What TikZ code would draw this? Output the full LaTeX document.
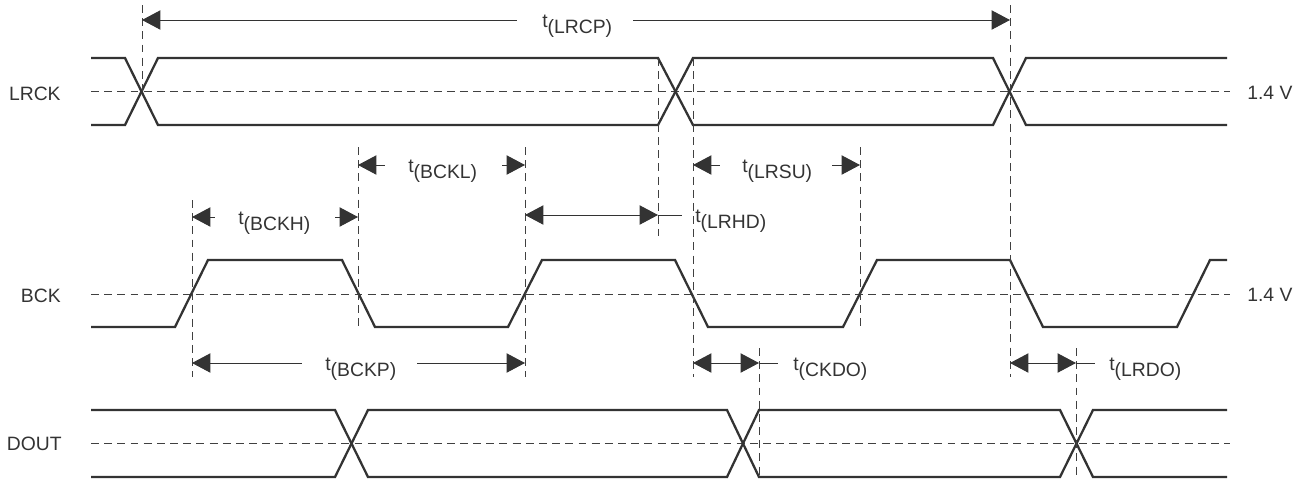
\documentclass[tikz,border=0pt]{standalone}
\usepackage{fontspec}
\setmainfont{Liberation Sans}
\usetikzlibrary{arrows.meta}

\newcommand{\tname}[1]{t\raisebox{-3.6pt}{(#1)}}

\begin{document}
\begin{tikzpicture}
    [x=0.02cm, y=-0.02cm,
     >={Triangle[length=10.5pt,width=11pt]},
     wave/.style={draw=black!80, line width=1.3pt, line join=miter},
     help line/.style={draw=black!75, line width=0.55pt, dash pattern=on 4.5pt off 3pt},
     dim/.style={draw=black!80, line width=0.55pt},
     sig/.style={text=black!80, font=\fontsize{11}{13}\selectfont, inner sep=0pt},
     tlabel/.style={sig, anchor=base west}]
    \useasboundingbox (0, 0) rectangle (1306, 481);

    % signal names and threshold
    \node[sig, anchor=east] (lrck) at (61, 94) {LRCK};
    \node[sig, anchor=east] (bck) at (61, 296) {BCK};
    \node[sig, anchor=east] (dout) at (62, 444) {DOUT};
    \node[sig, anchor=west] (vlr) at (1247, 93) {1.4 V};
    \node[sig, anchor=west] (vbck) at (1247, 295) {1.4 V};

    % reference levels
    \draw[help line] (91, 91) -- (1230, 91);
    \draw[help line] (91, 294) -- (1230, 294);
    \draw[help line] (91, 443) -- (1230, 443);

    % LRCK
    \draw[wave] (91, 58) -- (125, 58) -- (158, 125) -- (658, 125) -- (693, 58)
      -- (993, 58) -- (1026, 125) -- (1227, 125);
    \draw[wave] (91, 125) -- (125, 125) -- (158, 58) -- (658, 58) -- (693, 125)
      -- (993, 125) -- (1026, 58) -- (1227, 58);

    % BCK
    \draw[wave] (91, 327) -- (175, 327) -- (208, 260) -- (342, 260) -- (375, 327)
      -- (508, 327) -- (542, 260) -- (675, 260) -- (708, 327) -- (843, 327)
      -- (877, 260) -- (1010, 260) -- (1043, 327) -- (1177, 327) -- (1210, 260)
      -- (1227, 260);

    % DOUT
    \draw[wave] (91, 410) -- (335, 410) -- (368, 477) -- (727, 477) -- (759, 410)
      -- (1060, 410) -- (1093, 477) -- (1227, 477);
    \draw[wave] (91, 477) -- (335, 477) -- (368, 410) -- (727, 410) -- (759, 477)
      -- (1060, 477) -- (1093, 410) -- (1227, 410);

    % edge markers
    \draw[help line] (142, 5) -- (142, 91);
    \draw[help line] (658, 58) -- (658, 236);
    \draw[help line] (693, 58) -- (693, 377);
    \draw[help line] (1010, 5) -- (1010, 377);
    \draw[help line] (192, 200) -- (192, 377);
    \draw[help line] (358, 147) -- (358, 327);
    \draw[help line] (525, 147) -- (525, 377);
    \draw[help line] (860, 147) -- (860, 327);
    \draw[help line] (759, 348) -- (759, 477);
    \draw[help line] (1076, 348) -- (1076, 477);

    % t(LRCP)
    \draw[dim, <-] (142, 20) -- (517, 20);
    \draw[dim, ->] (633, 20) -- (1010, 20);
    \node[tlabel] (lrcp) at (542, 27) {\tname{LRCP}};

    % t(BCKL), t(BCKH)
    \draw[dim, <-] (358, 165) -- (385, 165);
    \draw[dim, ->] (502, 165) -- (525, 165);
    \node[tlabel] (bckl) at (408, 172) {\tname{BCKL}};
    \draw[dim, <-] (192, 217) -- (215, 217);
    \draw[dim, ->] (335, 217) -- (358, 217);
    \node[tlabel] (bckh) at (238, 224) {\tname{BCKH}};

    % t(LRSU), t(LRHD)
    \draw[dim, <-] (693, 165) -- (720, 165);
    \draw[dim, ->] (832, 165) -- (860, 165);
    \node[tlabel] (lrsu) at (742, 172) {\tname{LRSU}};
    \draw[dim, <->] (525, 215) -- (658, 215);
    \draw[dim] (658, 215) -- (682, 215);
    \node[tlabel] (lrhd) at (695, 222) {\tname{LRHD}};

    % t(BCKP)
    \draw[dim, <-] (192, 363) -- (302, 363);
    \draw[dim, ->] (417, 363) -- (525, 363);
    \node[tlabel] (bckp) at (325, 370) {\tname{BCKP}};

    % t(CKDO), t(LRDO)
    \draw[dim, <->] (693, 363) -- (759, 363);
    \draw[dim] (759, 363) -- (778, 363);
    \node[tlabel] (ckdo) at (793, 370) {\tname{CKDO}};
    \draw[dim, <->] (1010, 363) -- (1076, 363);
    \draw[dim] (1076, 363) -- (1095, 363);
    \node[tlabel] (lrdo) at (1109, 370) {\tname{LRDO}};
  \end{tikzpicture}
\end{document}
